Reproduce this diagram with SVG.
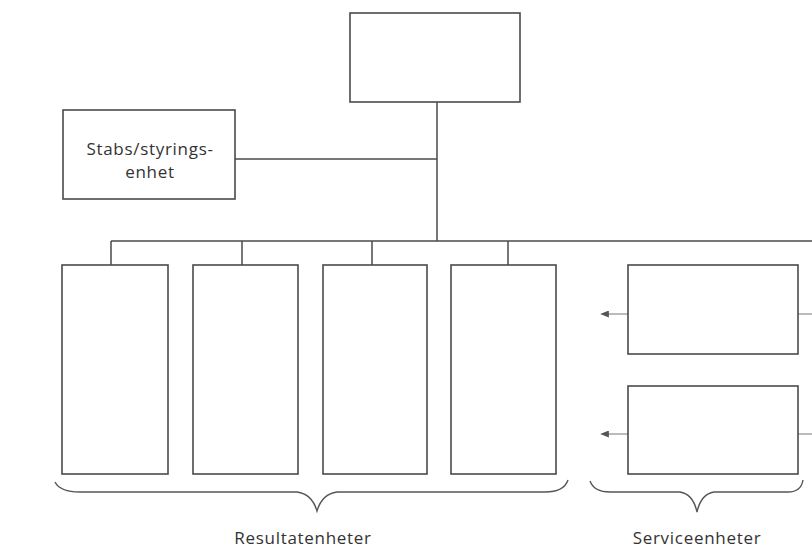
<svg xmlns="http://www.w3.org/2000/svg" width="812" height="551" viewBox="0 0 812 551">
<defs>
<style>
.box{fill:#fff;stroke:#4a4a4a;stroke-width:1.6}
.ln{fill:none;stroke:#4a4a4a;stroke-width:1.5}
.thin{fill:none;stroke:#777;stroke-width:1}
.br{fill:none;stroke:#555;stroke-width:1.4}
.t{font-family:"Open Sans","Noto Sans","Liberation Sans",sans-serif;font-size:17px;letter-spacing:0.7px;fill:#333;text-anchor:middle}
</style>
<marker id="ah" viewBox="0 0 10 8" refX="1" refY="4" markerWidth="10" markerHeight="7" orient="auto" markerUnits="userSpaceOnUse">
<path d="M0,4 L10,0 L10,8 Z" fill="#555" transform="rotate(180 5 4)"/>
</marker>
</defs>
<rect width="812" height="551" fill="#fff"/>
<g id="connectors">
<line class="ln" x1="437" y1="102" x2="437" y2="241"/>
<line class="ln" x1="235" y1="159" x2="437" y2="159"/>
<line class="ln" x1="111" y1="241" x2="812" y2="241"/>
<line class="ln" x1="111" y1="241" x2="111" y2="265"/>
<line class="ln" x1="242" y1="241" x2="242" y2="265"/>
<line class="ln" x1="372" y1="241" x2="372" y2="265"/>
<line class="ln" x1="508" y1="241" x2="508" y2="265"/>
<line class="thin" x1="628" y1="314" x2="608" y2="314" marker-end="url(#ah)"/>
<line class="thin" x1="628" y1="434" x2="608" y2="434" marker-end="url(#ah)"/>
<line class="thin" x1="798" y1="314" x2="812" y2="314"/>
<line class="thin" x1="798" y1="434" x2="812" y2="434"/>
</g>
<g id="top"><rect class="box" x="350" y="13" width="170" height="89"/></g>
<g id="stab"><rect class="box" x="63" y="110" width="172" height="89"/>
<text class="t" x="150" y="155">Stabs/styrings-</text>
<text class="t" x="150" y="178">enhet</text></g>
<g id="r1"><rect class="box" x="62" y="265" width="106" height="209"/></g>
<g id="r2"><rect class="box" x="193" y="265" width="105" height="209"/></g>
<g id="r3"><rect class="box" x="323" y="265" width="104" height="209"/></g>
<g id="r4"><rect class="box" x="451" y="265" width="105" height="209"/></g>
<g id="s1"><rect class="box" x="628" y="265" width="170" height="89"/></g>
<g id="s2"><rect class="box" x="628" y="386" width="170" height="88"/></g>
<g id="braces">
<path class="br" d="M55,482 Q60,492 80,492 L297,492 Q312,494 317,511 Q322,494 337,492 L545,492 Q564,492 568,480"/>
<path class="br" d="M590,481 Q594,492 610,492 L680,492 Q693,494 697,512 Q701,494 714,492 L788,492 Q801,492 803,480"/>
</g>
<text class="t" x="303" y="544">Resultatenheter</text>
<text class="t" x="697" y="544">Serviceenheter</text>
</svg>
